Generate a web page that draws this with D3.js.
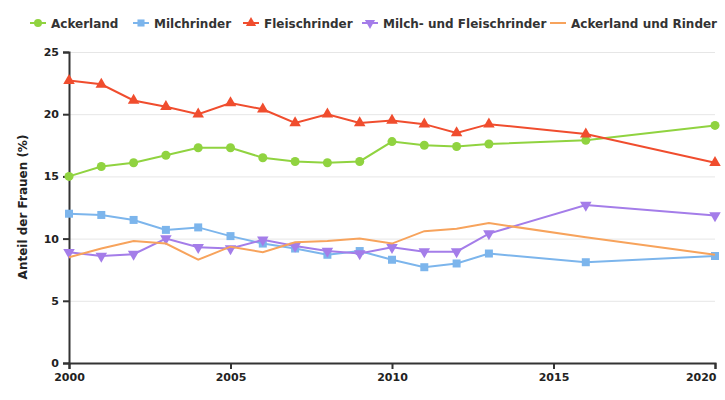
<!DOCTYPE html>
<html>
<head>
<meta charset="utf-8">
<script src="https://cdn.jsdelivr.net/npm/d3@7"></script>
<style>
body{margin:0;background:#fff;}
svg{font-family:'DejaVu Sans',sans-serif;}
</style>
</head>
<body>
<div id="chart"></div>
<script>
// Jahre und Werte (Anteil der Frauen in %)
var years=[2000,2001,2002,2003,2004,2005,2006,2007,2008,2009,2010,2011,2012,2013,2016,2020];
var ackerland=[15.0,15.8,16.1,16.7,17.3,17.3,16.5,16.2,16.1,16.2,17.8,17.5,17.4,17.6,17.9,19.1];
var milchrinder=[12.0,11.9,11.5,10.7,10.9,10.2,9.6,9.2,8.7,9.0,8.3,7.7,8.0,8.8,8.1,8.6];
var fleischrinder=[22.7,22.4,21.1,20.6,20.0,20.9,20.4,19.3,20.0,19.3,19.5,19.2,18.5,19.2,18.4,16.1];
var milchFleisch=[8.9,8.6,8.75,10.0,9.3,9.2,9.9,9.4,9.0,8.8,9.3,8.95,8.95,10.4,12.7,11.85];
var ackerRinder=[8.5,9.2,9.8,9.6,8.3,9.35,8.9,9.7,9.8,10.0,9.6,10.6,10.8,11.25,10.1,8.7];
var xTicks=[2000,2005,2010,2015,2020];
var yTicks=[0,5,10,15,20,25];

var series=[
	{name:'Ackerland',values:ackerland,color:'#90d340',symbol:'circle'},
	{name:'Milchrinder',values:milchrinder,color:'#7cb5ec',symbol:'square'},
	{name:'Fleischrinder',values:fleischrinder,color:'#f04d2e',symbol:'triangle'},
	{name:'Milch- und Fleischrinder',values:milchFleisch,color:'#a47de9',symbol:'triangle-down'},
	{name:'Ackerland und Rinder',values:ackerRinder,color:'#f7a35c',symbol:'none'}
];

var W=725,H=400;
var svg=d3.select('#chart').append('svg').attr('width',W).attr('height',H);

var x=d3.scaleLinear().domain([2000,2020]).range([69,715]);
var y=d3.scaleLinear().domain([0,25]).range([363,52]);

//---------------- grid ----------------
svg.append('g').selectAll('line').data(yTicks.slice(1)).enter().append('line')
	.attr('x1',69).attr('x2',715)
	.attr('y1',function(d){return y(d)+0.5}).attr('y2',function(d){return y(d)+0.5})
	.attr('stroke','#e6e6e6').attr('stroke-width',1);

//---------------- axes ----------------
var gx=svg.append('g').attr('transform','translate(0,363)')
	.call(d3.axisBottom(x).tickValues(xTicks).tickFormat(d3.format('d')).tickSizeOuter(0).tickSize(6));
var gy=svg.append('g').attr('transform','translate(69,0)')
	.call(d3.axisLeft(y).tickValues(yTicks).tickSizeOuter(0).tickSize(6));
[gx,gy].forEach(function(g){
	g.select('.domain').attr('stroke','#333').attr('stroke-width',2);
	g.selectAll('.tick line').attr('stroke','#333').attr('stroke-width',2);
	g.selectAll('.tick text').attr('fill','#222').style('font-size','11px').style('font-weight','bold')
		.style('font-family','DejaVu Sans');
});
gy.selectAll('.tick text').attr('x',-10);
gx.selectAll('.tick text').attr('y',10);
// letzte Beschriftung rechtsbündig, damit sie nicht abgeschnitten wird
gx.selectAll('.tick text').filter(function(d){return d==2020}).attr('text-anchor','end').attr('x',1);

svg.append('text')
	.attr('transform','translate(27,207) rotate(-90)')
	.attr('text-anchor','middle')
	.style('font-size','12px').style('font-weight','bold').attr('fill','#222')
	.text('Anteil der Frauen (%)');

//---------------- lines ----------------
function symbolPath(s,size){
	if(s=='circle') return d3.symbol(d3.symbolCircle,size)();
	if(s=='square') return d3.symbol(d3.symbolSquare,size)();
	if(s=='triangle') return d3.symbol(d3.symbolTriangle,size*0.9)();
	if(s=='triangle-down') return d3.symbol(d3.symbolTriangle,size*0.9)();
	return null;
}

var line=d3.line().x(function(d){return x(d[0])}).y(function(d){return y(d[1])});

series.forEach(function(s){
	var pts=years.map(function(yr,i){return [yr,s.values[i]]});
	var g=svg.append('g');
	g.append('path').attr('d',line(pts)).attr('fill','none')
		.attr('stroke',s.color).attr('stroke-width',2);
	if(s.symbol!='none'){
		g.selectAll('path.m').data(pts).enter().append('path').attr('class','m')
			.attr('d',symbolPath(s.symbol,64))
			.attr('transform',function(d){
				return 'translate('+x(d[0])+','+y(d[1])+')'+(s.symbol=='triangle-down'?' rotate(180)':'');
			})
			.attr('fill',s.color);
	}
});

//---------------- legend ----------------
var legX=[30,133,243,362,550];
var leg=svg.append('g');
series.forEach(function(s,i){
	var g=leg.append('g').attr('transform','translate('+legX[i]+',23)');
	g.append('line').attr('x1',0).attr('x2',16).attr('y1',0).attr('y2',0)
		.attr('stroke',s.color).attr('stroke-width',2);
	if(s.symbol!='none'){
		g.append('path').attr('d',symbolPath(s.symbol,50))
			.attr('transform','translate(8,0)'+(s.symbol=='triangle-down'?' rotate(180)':''))
			.attr('fill',s.color);
	}
	g.append('text').attr('x',21).attr('y',4.5)
		.style('font-size','12px').style('font-weight','bold').attr('fill','#333')
		.text(s.name);
});
</script>
</body>
</html>
